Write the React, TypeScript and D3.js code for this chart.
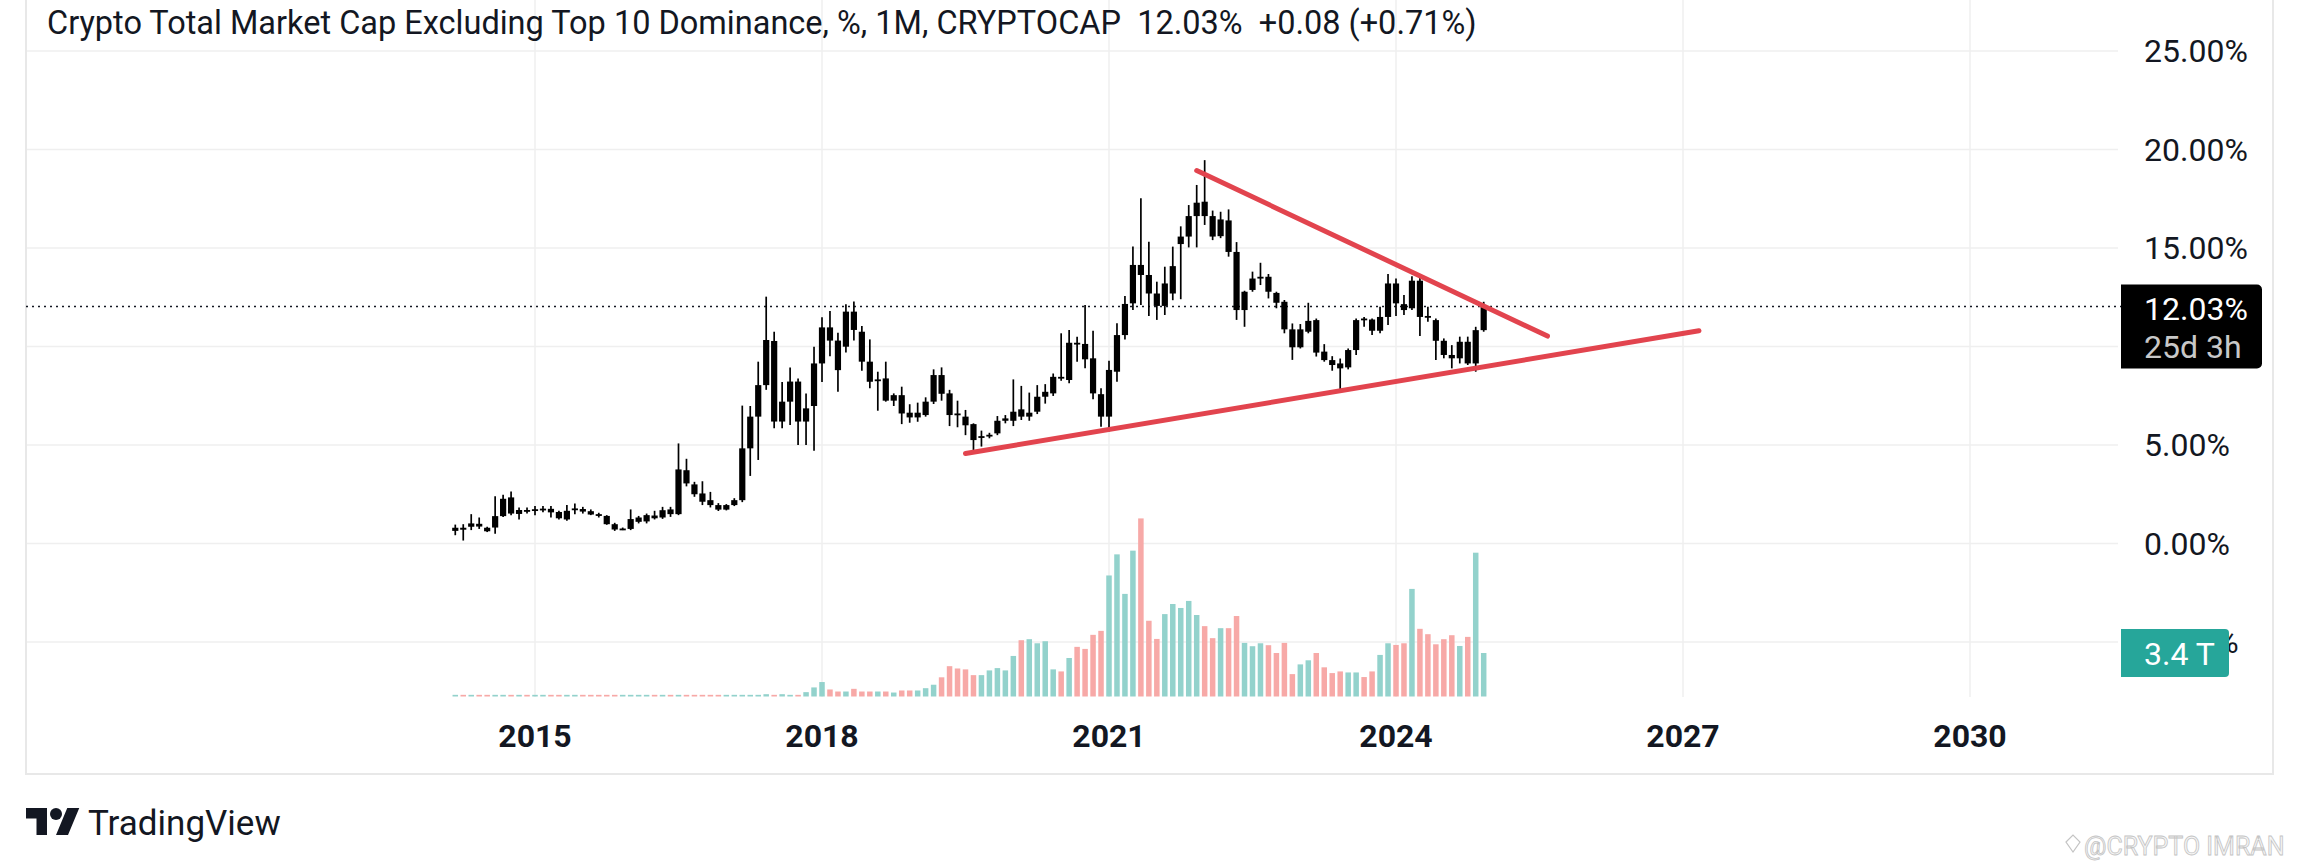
import React, { useRef, useEffect } from 'react';
import * as d3 from 'd3';

// one candle per month, starting March 2014 and ending December 2024
const firstMonth = '2014-03';

// [open, high, low, close] in %
const ohlc: [number, number, number, number][] = [
  // 2014 (from March)
  [0.64, 0.96, 0.42, 0.8], [0.8, 0.98, 0.15, 0.7], [0.85, 1.49, 0.68, 1.02], [1.0, 1.32, 0.74, 0.86],
  [0.8, 0.85, 0.58, 0.62], [0.81, 2.4, 0.5, 1.39], [1.39, 2.47, 1.35, 2.27], [2.34, 2.64, 1.44, 1.52],
  [1.5, 1.83, 1.22, 1.7], [1.7, 1.83, 1.52, 1.66],
  // 2015
  [1.68, 1.9, 1.44, 1.74], [1.74, 1.9, 1.59, 1.77], [1.76, 1.9, 1.32, 1.58], [1.6, 1.66, 1.22, 1.28],
  [1.22, 1.95, 1.15, 1.66], [1.69, 2.03, 1.49, 1.78], [1.75, 1.86, 1.52, 1.62], [1.64, 1.73, 1.44, 1.47],
  [1.49, 1.56, 1.32, 1.46], [1.4, 1.44, 0.95, 0.98], [0.98, 1.05, 0.64, 0.71], [0.71, 0.81, 0.68, 0.76],
  // 2016
  [0.74, 1.73, 0.68, 1.24], [1.1, 1.4, 1.02, 1.32], [1.12, 1.52, 1.02, 1.44], [1.42, 1.66, 1.22, 1.28],
  [1.32, 1.86, 1.25, 1.69], [1.73, 1.86, 1.35, 1.49], [1.49, 5.08, 1.44, 3.76], [3.72, 4.3, 2.9, 3.05],
  [3.0, 3.13, 2.37, 2.5], [2.54, 3.16, 1.95, 2.12], [2.2, 2.62, 1.83, 1.95], [1.95, 2.05, 1.65, 1.72],
  // 2017
  [1.72, 2.0, 1.68, 1.95], [1.95, 2.3, 1.9, 2.2], [2.2, 7.0, 2.1, 4.83], [4.83, 6.98, 3.43, 6.44],
  [6.44, 9.23, 4.24, 8.04], [8.04, 12.53, 7.8, 10.33], [10.28, 10.75, 5.85, 6.19], [6.19, 8.2, 5.85, 7.2],
  [7.2, 8.94, 6.02, 8.22], [8.22, 8.38, 5.0, 6.19], [6.19, 7.62, 5.0, 6.86], [6.98, 9.99, 4.71, 9.14],
  // 2018
  [9.14, 11.48, 8.2, 10.97], [10.97, 11.8, 9.5, 10.3], [10.3, 10.7, 7.7, 8.8], [9.99, 12.15, 9.7, 11.77],
  [11.77, 12.28, 10.3, 10.84], [10.75, 11.04, 8.77, 9.23], [9.23, 10.36, 7.88, 8.21], [8.25, 8.72, 6.74, 8.33],
  [8.38, 9.23, 7.2, 7.25], [7.25, 7.62, 6.98, 7.53], [7.53, 7.96, 6.06, 6.6], [6.64, 7.07, 6.13, 6.4],
  // 2019
  [6.4, 7.15, 6.18, 6.64], [6.52, 7.42, 6.44, 7.2], [7.2, 8.84, 7.08, 8.55], [8.55, 8.94, 7.25, 7.6],
  [7.62, 7.8, 5.96, 6.52], [6.6, 7.25, 5.9, 6.52], [6.44, 6.78, 5.5, 6.0], [6.06, 6.1, 4.66, 5.25],
  [5.39, 5.73, 4.92, 5.45], [5.45, 5.62, 5.34, 5.52], [5.59, 6.47, 5.5, 6.23], [6.23, 6.52, 6.1, 6.35],
  // 2020
  [6.23, 8.33, 5.96, 6.69], [6.81, 8.0, 6.27, 6.44], [6.44, 7.66, 6.23, 6.64], [6.69, 8.04, 6.57, 7.45],
  [7.45, 8.09, 7.1, 7.7], [7.62, 8.63, 7.49, 8.46], [8.46, 10.67, 8.26, 8.4], [8.3, 10.84, 8.13, 10.19],
  [10.19, 10.5, 9.23, 10.1], [10.13, 12.11, 8.9, 9.35], [9.4, 10.8, 7.32, 7.62], [7.58, 7.88, 5.93, 6.44],
  // 2021
  [6.44, 9.28, 5.68, 8.81], [8.72, 11.18, 8.21, 10.58], [10.58, 12.56, 10.36, 12.16], [12.19, 15.07, 11.85, 14.14],
  [14.14, 17.52, 12.11, 13.63], [13.63, 15.32, 11.55, 12.69], [12.69, 13.29, 11.35, 12.06], [12.06, 14.05, 11.6, 13.2],
  [12.69, 15.07, 12.35, 14.08], [15.2, 16.1, 12.4, 15.58], [15.58, 17.18, 15.03, 16.62], [16.62, 18.2, 15.03, 17.3],
  // 2022
  [17.35, 19.46, 16.17, 16.62], [16.62, 16.9, 15.4, 15.58], [15.6, 16.84, 15.5, 16.45], [16.4, 16.96, 14.56, 14.8],
  [14.8, 15.3, 11.35, 11.85], [11.85, 12.83, 11.0, 12.78], [12.87, 13.8, 12.78, 13.45], [13.45, 14.25, 13.12, 13.54],
  [13.54, 13.68, 12.44, 12.78], [12.72, 12.78, 11.94, 12.22], [12.27, 12.36, 10.67, 10.87], [10.87, 11.17, 9.32, 9.96],
  // 2023
  [9.96, 11.14, 9.9, 10.87], [10.75, 12.22, 10.67, 11.3], [11.34, 11.42, 9.49, 9.69], [9.74, 10.12, 9.23, 9.31],
  [9.31, 9.51, 8.77, 9.06], [9.14, 9.39, 7.79, 8.89], [8.94, 9.9, 8.84, 9.82], [9.82, 11.42, 9.57, 11.34],
  [11.42, 11.5, 11.0, 11.34], [11.37, 11.42, 10.59, 10.8], [10.8, 12.02, 10.67, 11.5], [11.5, 13.68, 11.09, 13.2],
  // 2024
  [13.2, 13.45, 11.55, 12.19], [12.15, 12.61, 11.6, 11.85], [11.94, 13.57, 11.85, 13.34], [13.34, 13.5, 10.53, 11.5],
  [11.55, 12.02, 11.26, 11.48], [11.34, 11.42, 9.31, 10.29], [10.29, 10.41, 9.4, 9.57], [9.57, 10.07, 8.89, 9.4],
  [9.4, 10.5, 9.14, 10.24], [10.24, 10.5, 9.06, 9.14], [9.14, 11.0, 8.72, 10.83], [10.83, 12.27, 10.75, 12.03],
];

// monthly volume, trillions
const volume = [
  0.13, 0.13, 0.13, 0.13, 0.13, 0.13, 0.13, 0.13, 0.13, 0.13,
  0.13, 0.13, 0.13, 0.13, 0.13, 0.13, 0.13, 0.13, 0.13, 0.13, 0.13, 0.13,
  0.13, 0.13, 0.13, 0.13, 0.13, 0.13, 0.13, 0.13, 0.13, 0.13, 0.13, 0.13,
  0.13, 0.13, 0.13, 0.13, 0.13, 0.18, 0.13, 0.18, 0.13, 0.13, 0.34, 0.71,
  1.13, 0.55, 0.39, 0.39, 0.6, 0.39, 0.39, 0.39, 0.39, 0.31, 0.47, 0.47,
  0.47, 0.65, 0.92, 1.5, 2.37, 2.19, 2.12, 1.67, 1.67, 2.04, 2.22, 2.04,
  3.17, 4.4, 4.48, 4.16, 4.32, 2.12, 1.96, 3.01, 3.88, 3.72, 4.82, 5.13,
  9.46, 11.11, 8.02, 11.4, 13.92, 5.92, 4.5, 6.44, 7.23, 6.92, 7.47, 6.37,
  5.5, 4.56, 5.34, 5.34, 6.29, 4.19, 3.93, 4.16, 4.01, 3.4, 4.19, 1.75,
  2.51, 2.83, 3.4, 2.28, 1.83, 1.96, 1.88, 1.88, 1.52, 1.96, 3.25, 4.16,
  4.03, 4.16, 8.41, 5.29, 4.87, 4.08, 4.48, 4.79, 3.95, 4.66, 11.24, 3.4,
];

const yearTicks = ['2015', '2018', '2021', '2024', '2027', '2030'];
const priceTicks = [25, 20, 15, 10, 5, 0, -5];

// drawn trend lines: [month, %]
const trendLines: [[string, number], [string, number]][] = [
  [['2021-12', 18.93], ['2025-08', 10.53]],
  [['2019-07', 4.57], ['2027-03', 10.8]],
];

const lastPrice = 12.03;
const countdown = '25d 3h';
const lastVolume = 3.4;
const title = 'Crypto Total Market Cap Excluding Top 10 Dominance, %, 1M, CRYPTOCAP  12.03%  +0.08 (+0.71%)';

// months counted from January 2015
const monthIndex = (s: string) => {
  const [yy, mm] = s.split('-').map(Number);
  return (yy - 2015) * 12 + (mm - 1);
};

const W = 2300;
const H = 867;

export default function App() {
  const ref = useRef<SVGSVGElement | null>(null);

  useEffect(() => {
    if (!ref.current) return;
    const svg = d3.select(ref.current);
    svg.selectAll('*').remove();

    const font = 'Roboto, "Noto Sans", sans-serif';
    const ink = '#131722';
    const axisSize = 32;
    const left = 26, plotRight = 2118, frameRight = 2273, frameBottom = 774, paneBottom = 697;
    const labelX = 2144, boxX = 2121;

    const x = d3.scaleLinear().domain([0, 180]).range([535, 1970]);
    const y = d3.scaleLinear().domain([0, 25]).range([543.5, 51]);
    const v = d3.scaleLinear().domain([0, lastVolume]).range([696.5, 653]);

    const start = monthIndex(firstMonth);
    const rows = ohlc.map((d, i) => ({
      t: start + i, o: d[0], h: d[1], l: d[2], c: d[3], vol: volume[i],
    }));

    const py = y(lastPrice);
    const vy = v(lastVolume);
    const priceBox = [py - 22, py + 62];
    const volBox = [vy - 24, vy + 24];
    const volBoxRight = 2229;

    svg.append('rect').attr('width', W).attr('height', H).attr('fill', '#fff');

    // grid
    svg.append('g').selectAll('line').data(priceTicks).join('line')
      .attr('x1', left).attr('x2', plotRight)
      .attr('y1', d => y(d)).attr('y2', d => y(d))
      .attr('stroke', '#efefef').attr('stroke-width', 1.5);
    svg.append('g').selectAll('line').data(yearTicks).join('line')
      .attr('x1', d => x((+d - 2015) * 12)).attr('x2', d => x((+d - 2015) * 12))
      .attr('y1', 0).attr('y2', paneBottom)
      .attr('stroke', '#efefef').attr('stroke-width', 1.5);

    // frame
    svg.append('path')
      .attr('d', `M${left},0V${frameBottom}H${frameRight}V0`)
      .attr('fill', 'none').attr('stroke', '#e8e8e8').attr('stroke-width', 2);

    // price axis: labels under the price box are hidden, the one under the
    // volume box only shows the part sticking out on the right
    const fmt = (d: number) => `${d.toFixed(2)}%`;
    const axis = svg.append('g')
      .attr('font-family', font).attr('font-size', axisSize).attr('fill', ink);
    priceTicks.forEach(d => {
      const ty = y(d);
      if (ty > priceBox[0] - 10 && ty < priceBox[1] + 10) return;
      if (ty > volBox[0] - 10 && ty < volBox[1] + 10) {
        const probe = axis.append('text').attr('x', labelX).attr('y', ty).text(fmt(d));
        const full = (probe.node() as SVGTextElement).getComputedTextLength();
        probe.remove();
        const tail = axis.append('text').attr('x', labelX + full).attr('y', ty)
          .attr('text-anchor', 'end').attr('dominant-baseline', 'central').text('%');
        const tw = (tail.node() as SVGTextElement).getComputedTextLength();
        if (labelX + full - tw < volBoxRight - 2) tail.attr('textLength', null);
        return;
      }
      axis.append('text').attr('x', labelX).attr('y', ty)
        .attr('dominant-baseline', 'central').text(fmt(d));
    });

    // time axis
    svg.append('g').selectAll('text').data(yearTicks).join('text')
      .attr('x', d => x((+d - 2015) * 12)).attr('y', 736)
      .attr('text-anchor', 'middle').attr('dominant-baseline', 'central')
      .attr('font-family', font).attr('font-size', 32).attr('font-weight', 700).attr('fill', ink)
      .text(d => d);

    // last price line
    svg.append('line')
      .attr('x1', left).attr('x2', boxX)
      .attr('y1', py).attr('y2', py)
      .attr('stroke', ink).attr('stroke-width', 1.5).attr('stroke-dasharray', '2 4');

    // volume
    svg.append('g').selectAll('rect').data(rows).join('rect')
      .attr('x', d => x(d.t) - 2.75).attr('width', 5.5)
      .attr('y', d => v(d.vol)).attr('height', d => v(0) - v(d.vol))
      .attr('fill', d => (d.c >= d.o ? '#93d2cc' : '#f7a9a7'));

    // candles
    const candles = svg.append('g');
    candles.selectAll('line').data(rows).join('line')
      .attr('x1', d => x(d.t)).attr('x2', d => x(d.t))
      .attr('y1', d => y(d.h)).attr('y2', d => y(d.l))
      .attr('stroke', '#000').attr('stroke-width', 1.7);
    candles.selectAll('rect').data(rows).join('rect')
      .attr('x', d => x(d.t) - 3.1).attr('width', 6.2)
      .attr('y', d => y(Math.max(d.o, d.c)))
      .attr('height', d => Math.max(1.8, Math.abs(y(d.o) - y(d.c))))
      .attr('fill', '#000');

    // trend lines
    svg.append('g').selectAll('line').data(trendLines).join('line')
      .attr('x1', d => x(monthIndex(d[0][0]))).attr('y1', d => y(d[0][1]))
      .attr('x2', d => x(monthIndex(d[1][0]))).attr('y2', d => y(d[1][1]))
      .attr('stroke', '#e2444e').attr('stroke-width', 5).attr('stroke-linecap', 'round');

    // last price label
    svg.append('path')
      .attr('d', `M${boxX},${priceBox[0]}H2257a5,5 0 0 1 5,5V${priceBox[1] - 5}a5,5 0 0 1 -5,5H${boxX}Z`)
      .attr('fill', '#000');
    svg.append('text').attr('x', labelX).attr('y', py + 2)
      .attr('dominant-baseline', 'central')
      .attr('font-family', font).attr('font-size', axisSize).attr('fill', '#fff')
      .text(fmt(lastPrice));
    svg.append('text').attr('x', labelX).attr('y', py + 40)
      .attr('dominant-baseline', 'central')
      .attr('font-family', font).attr('font-size', axisSize).attr('fill', '#c8c8c8')
      .text(countdown);

    // last volume label
    svg.append('path')
      .attr('d', `M${boxX},${volBox[0]}H${volBoxRight - 4}a4,4 0 0 1 4,4V${volBox[1] - 4}a4,4 0 0 1 -4,4H${boxX}Z`)
      .attr('fill', '#26a69a');
    svg.append('text').attr('x', labelX).attr('y', vy + 1)
      .attr('dominant-baseline', 'central')
      .attr('font-family', font).attr('font-size', axisSize).attr('fill', '#fff')
      .text(`${lastVolume} T`);

    // legend
    svg.append('text').attr('x', 47).attr('y', 34)
      .style('white-space', 'pre')
      .attr('font-family', font).attr('font-size', 32.5).attr('fill', ink)
      .text(title);

    // TradingView logo
    const logo = svg.append('g').attr('transform', 'translate(26,802) scale(1.5)').attr('fill', ink);
    logo.append('path').attr('d', 'M14 22H7V11H0V4h14v18zM28 22h-8l7.5-18h8L28 22z');
    logo.append('circle').attr('cx', 20).attr('cy', 8).attr('r', 4);
    svg.append('text').attr('x', 88).attr('y', 835)
      .attr('font-family', font).attr('font-size', 35).attr('fill', ink)
      .text('TradingView');

    // watermark
    svg.append('path')
      .attr('d', 'M2066,842 l7,-7 l7,7 l-7,10 z')
      .attr('fill', 'none').attr('stroke', '#c4c4c4').attr('stroke-width', 1.2);
    svg.append('text').attr('x', 2084).attr('y', 855)
      .attr('font-family', font).attr('font-size', 25)
      .attr('fill', '#f6f6f6').attr('stroke', '#c4c4c4').attr('stroke-width', 0.8)
      .text('@CRYPTO IMRAN');
  }, []);

  return (
    <svg
      ref={ref}
      width={W}
      height={H}
      style={{ position: 'absolute', left: 0, top: 0, display: 'block' }}
    />
  );
}
